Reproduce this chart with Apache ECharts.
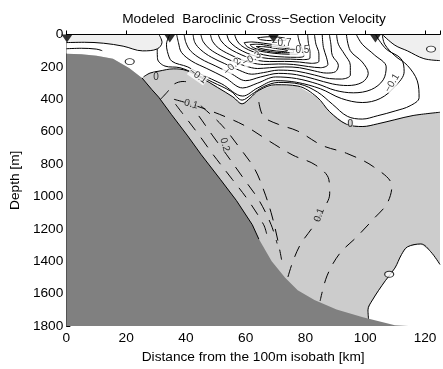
<!DOCTYPE html>
<html><head><meta charset="utf-8">
<script src="https://cdn.jsdelivr.net/npm/echarts@6/dist/echarts.min.js"></script>
<style>html,body{margin:0;padding:0;background:#fff}#c{width:443px;height:369px}</style>
</head><body><div id="c"></div>
<script>
// ---------- data (distance km, depth m) ----------
const xTicks = [0, 20, 40, 60, 80, 100, 120];
const yTicks = [0, 200, 400, 600, 800, 1000, 1200, 1400, 1600, 1800];
const stations = [0.2, 34.6, 69.3, 103.4];

const bathymetry = [[0,119],[5,122],[10.1,131],[15.6,149],[21.1,209],[25.3,268],[28.6,340],[30.9,387],[35.2,495],[40.6,626],[45,739],[51.5,894],[56.9,1025],[62.2,1174],[64.4,1263],[68.7,1400],[73.2,1502],[77.4,1579],[83,1639],[90.4,1698],[99.2,1746],[109.9,1794],[115,1800],[125,1800]];

const zeroContour = [[25.8,262],[28,238],[31,226],[35.9,212],[40.1,222],[45,266],[50.5,326],[55.7,385],[58.8,428],[61.5,392],[64.4,345],[70,310],[77.4,318],[83.9,387],[88.1,477],[93.7,554],[99.2,568],[104,552],[109.9,526],[116,500],[125,480]];

const bottomZero = [[101.1,1758],[100.9,1700],[102.4,1639],[106.7,1520],[109.9,1442],[112.1,1359],[114.1,1311],[118.6,1293],[121.9,1341],[125,1420]];

const lightLeft = [[0,0],[31,0],[32,48],[30.4,89],[25.5,101],[19,72],[12.5,54],[6,48],[0,50]];
const lightRight = [[105.7,0],[125,0],[125,161],[119.6,149],[114.1,101],[109.9,66]];

const negContours = [
  [[30.4,89],[30.5,150],[33,195],[38,205],[43,242],[49,295],[55,350],[58.8,405],[62,370],[66,322],[71,296],[78,306],[84,355],[89,430],[94,505],[99,522],[104,502],[110,472],[115,440],[118,390],[117.4,286],[114.1,191],[109.9,131],[106.5,60],[105.7,0]],
  [[34.6,0],[33.5,60],[33.8,105],[35.3,165],[40.6,200],[45,245],[52,305],[59,380],[64,330],[70,285],[77,295],[85,335],[92,395],[99,420],[105,395],[110,320],[113,230],[112,150],[107,90],[103.4,0]],
  [[36.9,0],[37.5,50],[38.5,110],[42,165],[47,210],[53,265],[59,330],[64,300],[70,262],[77,272],[84,305],[90,345],[96,360],[102,340],[106,280],[107,200],[103,125],[99,60],[97,0]],
  [[39.4,0],[40,50],[41.5,100],[45,150],[50,195],[55,240],[60,285],[65,262],[71,240],[77,248],[83,275],[89,305],[94,315],[99,295],[101,240],[99,170],[95,100],[93.7,0]],
  [[42.4,0],[43,50],[45,95],[48.5,140],[53,180],[58,222],[62,245],[66,235],[71,220],[77,226],[83,250],[88,272],[92,275],[95,250],[95,190],[93,120],[91,60],[90.4,0]],
  [[45,0],[45.8,45],[48,90],[51.5,130],[56,168],[60,195],[64,210],[68,205],[73,200],[78,205],[83,225],[87,238],[90,230],[91,190],[89,130],[88.5,60],[88,0]],
  [[48.2,0],[49,45],[51,85],[54.5,122],[58.5,155],[62,175],[66,185],[71,182],[76,185],[81,198],[85,205],[87.5,185],[87,140],[86,80],[85.6,0]],
  [[50.8,0],[51.8,40],[54,80],[57,112],[60.5,140],[64,160],[68,167],[73,166],[78,170],[82,178],[84.5,165],[84.5,120],[83.5,60],[83,0]],
  [[53.7,0],[54.5,40],[56.5,75],[59,103],[62,126],[65.5,143],[70,151],[75,152],[79,155],[81.5,145],[81.5,105],[81,55],[80.7,0]],
  [[56.3,0],[57,35],[58.5,68],[61,95],[64,116],[68,132],[73,139],[77,141],[79.5,132],[79,95],[78,50],[77.4,0]],
  [[59.5,50],[62,46],[66,54],[71,68],[75.5,86],[78,104],[77,122],[72,120],[67,110],[63,95],[60.5,75],[59.5,50]],
  [[61.5,62],[64,60],[68,70],[72.5,84],[76,100],[76,112],[72,112],[67,102],[63.5,88],[62,75],[61.5,62]],
  [[63.5,74],[66,75],[70,86],[74,100],[72.5,105],[68,96],[65,86],[63.5,74]],
  [[64,20],[68,14],[73,22],[73.5,35],[69,38],[65,32],[64,20]]
];

const topLines = [
  [[0,50],[6,48],[12.5,54],[19,72],[25.5,101],[30.4,89],[32,48],[31,0]],
  [[105.7,0],[109.9,66],[114.1,101],[119.6,149],[125,161]],
  [[0,88],[5,85],[10,90],[12,100]]
];

const posContours = [
  [[31.5,400],[34,350],[35.5,312],[39,290],[43,300]],
  [[64.4,417],[66,507],[71,555],[77.4,596],[85.6,685],[93.7,733],[102.8,817],[108.9,936],[107.3,1043],[102.8,1138],[97,1252],[91.4,1353],[87.2,1490],[84.9,1645]],
  [[36,400],[41.7,430],[48,470],[53.5,510],[60,566],[67.7,656],[75.8,745],[83.3,805],[87.8,894],[88.1,983],[85.6,1090],[82.3,1192],[78.4,1293],[75.8,1400],[74,1505]],
  [[45,440],[52,560],[58,700],[63,830],[66,960],[68.5,1100],[70.5,1250],[72,1390]],
  [[40,400],[44,495],[49,626],[53.5,739],[59.5,894],[64.5,1025],[68.5,1174],[70.5,1290]],
  [[36.5,430],[39.2,495],[44.6,626],[49,739],[55.5,894],[60.9,1025],[66,1174],[67,1230]]
];

const smallLoops = [[108,1480],[122,90],[21.2,167]];

const contourLabels = [
  [30, 265, '0'], [44, 255, '\u22120.1'], [55.5, 198, '\u22120.2'], [62, 150, '\u22120.3'],
  [72, 52, '\u22120.7'], [78, 100, '\u22120.5'], [41.7, 430, '0.1'], [53, 680, '0.2'],
  [84.6, 1115, '0.1'], [109, 300, '\u22120.1'], [95, 557, '0']
];
// ---------- styles ----------
const labelRot = [0, -35, 45, 30, 0, 0, -15, -75, 70, 60, 0];
const labelBg = ['#cccccc','#fff','#fff','#fff','#fff','#fff','#cccccc','#cccccc','#cccccc','#fff','#cccccc'];
const FONT = '"Liberation Sans", Arial, Helvetica, sans-serif';
const FS = 13.7;

function poly(pts, fill, z) {
  return { type: 'custom', coordinateSystem: 'cartesian2d', clip: true, silent: true, z: z,
    data: [[pts[0][0], pts[0][1]]],
    renderItem: (p, api) => ({ type: 'polygon', shape: { points: pts.map(q => api.coord(q)) },
      style: { fill: fill, stroke: null } }) };
}
function line(pts, dashed, z) {
  return { type: 'line', data: pts, showSymbol: false, symbol: 'none', smooth: 0.35, silent: true, z: z || 3,
    lineStyle: { color: '#000', width: 1, type: dashed ? [12, 9] : 'solid' } };
}

const whiteRegion = [[0,0],[125,0]].concat(zeroContour.slice().reverse())
  .concat(bathymetry.filter(p => p[0] < 25.8).reverse());
const blobRegion = bottomZero.concat([[125,1800],[101,1800]]);

const series = [];
series.push(poly(whiteRegion, '#ffffff', 1));
series.push(poly(lightLeft, '#efefef', 1));
series.push(poly(lightRight, '#efefef', 1));
series.push(poly(blobRegion, '#ffffff', 1));
negContours.forEach(c => series.push(line(c, false)));
topLines.forEach(c => series.push(line(c, false)));
series.push(line(zeroContour, false));
series.push(line(bottomZero, false));
posContours.forEach(c => series.push(line(c, true)));
series.push(poly(bathymetry.concat([[0,1800]]), '#808080', 5));
series.push(Object.assign(line(bathymetry.filter(p => p[0] > 25 && p[0] < 66), false, 6), { smooth: 0 }));
series.push({ type: 'scatter', silent: true, z: 7, symbol: 'circle', symbolSize: [9, 6],
  itemStyle: { color: '#fff', borderColor: '#000', borderWidth: 1 }, data: smallLoops });
series.push({ type: 'scatter', silent: true, z: 8, symbolSize: 0,
  data: contourLabels.map((l, i) => ({ value: [l[0], l[1]], name: l[2],
    label: { rotate: labelRot[i], backgroundColor: labelBg[i] } })),
  label: { show: true, position: 'inside', formatter: p => p.name, fontFamily: FONT, fontSize: 10,
    color: '#000', padding: 0 } });
series.push({ type: 'scatter', silent: true, z: 9, symbol: 'triangle', symbolRotate: 180,
  symbolSize: [11, 8], symbolOffset: [0, 4], itemStyle: { color: '#000' },
  data: stations.map(s => [s, 0]) });

const chart = echarts.init(document.getElementById('c'), null, { renderer: 'canvas' });
chart.setOption({
  animation: false,
  backgroundColor: '#fff',
  graphic: [{ type: 'text', x: 254, y: 19, z: 20,
    style: { text: 'Modeled  Baroclinic Cross\u2212Section Velocity', font: FS + 'px ' + FONT,
      fill: '#000', textAlign: 'center', textVerticalAlign: 'middle' } }],
  grid: { left: 61.5, top: 34.5, width: 385, height: 302, show: true, backgroundColor: '#cccccc',
    borderColor: 'transparent' },
  xAxis: [{ type: 'value', min: 0, max: 125, interval: 20, z: 10,
      name: 'Distance from the 100m isobath [km]', nameLocation: 'middle', nameGap: 19,
      nameTextStyle: { fontFamily: FONT, fontSize: FS, color: '#000' },
      axisLine: { lineStyle: { color: '#000', width: 1 } },
      axisTick: { inside: true, length: 4, lineStyle: { color: '#000' } },
      axisLabel: { fontFamily: FONT, fontSize: FS, color: '#000', margin: 5,
        formatter: v => xTicks.includes(v) ? String(v) : '' },
      splitLine: { show: false } },
    { type: 'value', position: 'top', min: 0, max: 125, z: 10,
      axisLine: { show: true, lineStyle: { color: '#000', width: 1 } },
      axisTick: { show: false }, axisLabel: { show: false }, splitLine: { show: false } }],
  yAxis: { type: 'value', inverse: true, min: 0, max: 1800, interval: 200,
    name: 'Depth [m]', nameLocation: 'middle', nameGap: 42,
    nameTextStyle: { fontFamily: FONT, fontSize: FS, color: '#000' },
    axisLine: { show: true, lineStyle: { color: '#000', width: 1 } },
    axisTick: { show: true, inside: true, length: 4, lineStyle: { color: '#000' } },
    axisLabel: { fontFamily: FONT, fontSize: FS, color: '#000', margin: 3,
      formatter: v => yTicks.includes(v) ? String(v) : '' },
    splitLine: { show: false } },
  series: series
});
</script></body></html>
